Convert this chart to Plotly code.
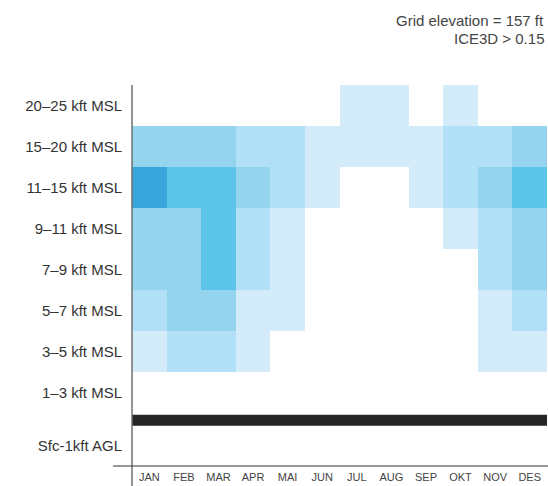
import plotly.graph_objects as go

months = ["JAN", "FEB", "MAR", "APR", "MAI", "JUN", "JUL", "AUG", "SEP", "OKT", "NOV", "DES"]
# altitude bands, bottom to top
levels = ["Sfc-1kft AGL", "1–3 kft MSL", "3–5 kft MSL", "5–7 kft MSL", "7–9 kft MSL",
          "9–11 kft MSL", "11–15 kft MSL", "15–20 kft MSL", "20–25 kft MSL"]

# icing frequency class (0 = none ... 5 = highest), per month
sfc_1    = [0, 0, 0, 0, 0, 0, 0, 0, 0, 0, 0, 0]
k1_3     = [0, 0, 0, 0, 0, 0, 0, 0, 0, 0, 0, 0]
k3_5     = [1, 2, 2, 1, 0, 0, 0, 0, 0, 0, 1, 1]
k5_7     = [2, 3, 3, 1, 1, 0, 0, 0, 0, 0, 1, 2]
k7_9     = [3, 3, 4, 2, 1, 0, 0, 0, 0, 0, 2, 3]
k9_11    = [3, 3, 4, 2, 1, 0, 0, 0, 0, 1, 2, 3]
k11_15   = [5, 4, 4, 3, 2, 1, 0, 0, 1, 2, 3, 4]
k15_20   = [3, 3, 3, 2, 2, 1, 1, 1, 1, 2, 2, 3]
k20_25   = [0, 0, 0, 0, 0, 0, 1, 1, 0, 1, 0, 0]

gap_row = [None] * 12  # row reserved for ground bar
z = [sfc_1, gap_row, k1_3, k3_5, k5_7, k7_9, k9_11, k11_15, k15_20, k20_25]
# row edges (y units): surface row, gap for ground bar, then MSL bands
y_edges = [0, 1, 1.3, 2.3, 3.3, 4.3, 5.3, 6.3, 7.3, 8.3, 9.3]
row_centers = [0.5] + [(y_edges[i] + y_edges[i + 1]) / 2 for i in range(2, 10)]

colors = ["#ffffff", "#d4ebfa", "#b2e0f7", "#94d4ef", "#5dc5e9", "#38a6da"]
cs = []
n = len(colors)
for i, c in enumerate(colors):
    cs.append([i / n, c])
    cs.append([(i + 1) / n, c])

fig = go.Figure(go.Heatmap(
    z=z, x=months, y=y_edges, zmin=-0.5, zmax=5.5, colorscale=cs,
    showscale=False, hoverongaps=False,
))

fig.add_shape(type="rect", xref="paper", yref="y", x0=0, x1=1, y0=0.98, y1=1.25,
              fillcolor="#262626", line_width=0, layer="above")
fig.add_shape(type="line", xref="paper", yref="paper", x0=0, x1=0, y0=1.0, y1=-0.06,
              line=dict(color="#707070", width=1.5), layer="above")
fig.add_shape(type="line", xref="paper", yref="paper", x0=-0.046, x1=1.01, y0=0, y1=0,
              line=dict(color="#333333", width=1), layer="above")

fig.add_annotation(text="Grid elevation = 157 ft", xref="paper", yref="paper",
                   x=0.997, y=1.168, xanchor="right", yanchor="middle", showarrow=False,
                   font=dict(size=15, color="#444444"))
fig.add_annotation(text="ICE3D > 0.15", xref="paper", yref="paper",
                   x=0.997, y=1.123, xanchor="right", yanchor="middle", showarrow=False,
                   font=dict(size=15, color="#444444"))

fig.update_layout(
    width=548, height=486,
    margin=dict(l=132, r=1, t=85, b=20),
    paper_bgcolor="white", plot_bgcolor="white",
    font=dict(family="Liberation Sans, Arial, sans-serif", color="#333333"),
    xaxis=dict(range=[-0.5, 11.5], showgrid=False, zeroline=False, showline=False,
               ticks="", tickfont=dict(size=11, color="#444444"), ticklabelstandoff=3,
               fixedrange=True),
    yaxis=dict(range=[0, 9.3], showgrid=False, zeroline=False, showline=False,
               tickvals=row_centers, ticktext=levels, ticks="",
               tickfont=dict(size=15, color="#333333"), ticklabelstandoff=9,
               fixedrange=True),
)

fig.write_html("out.html", config={"displayModeBar": False},
               post_script="document.body.style.margin='0';document.body.style.overflow='hidden';")
